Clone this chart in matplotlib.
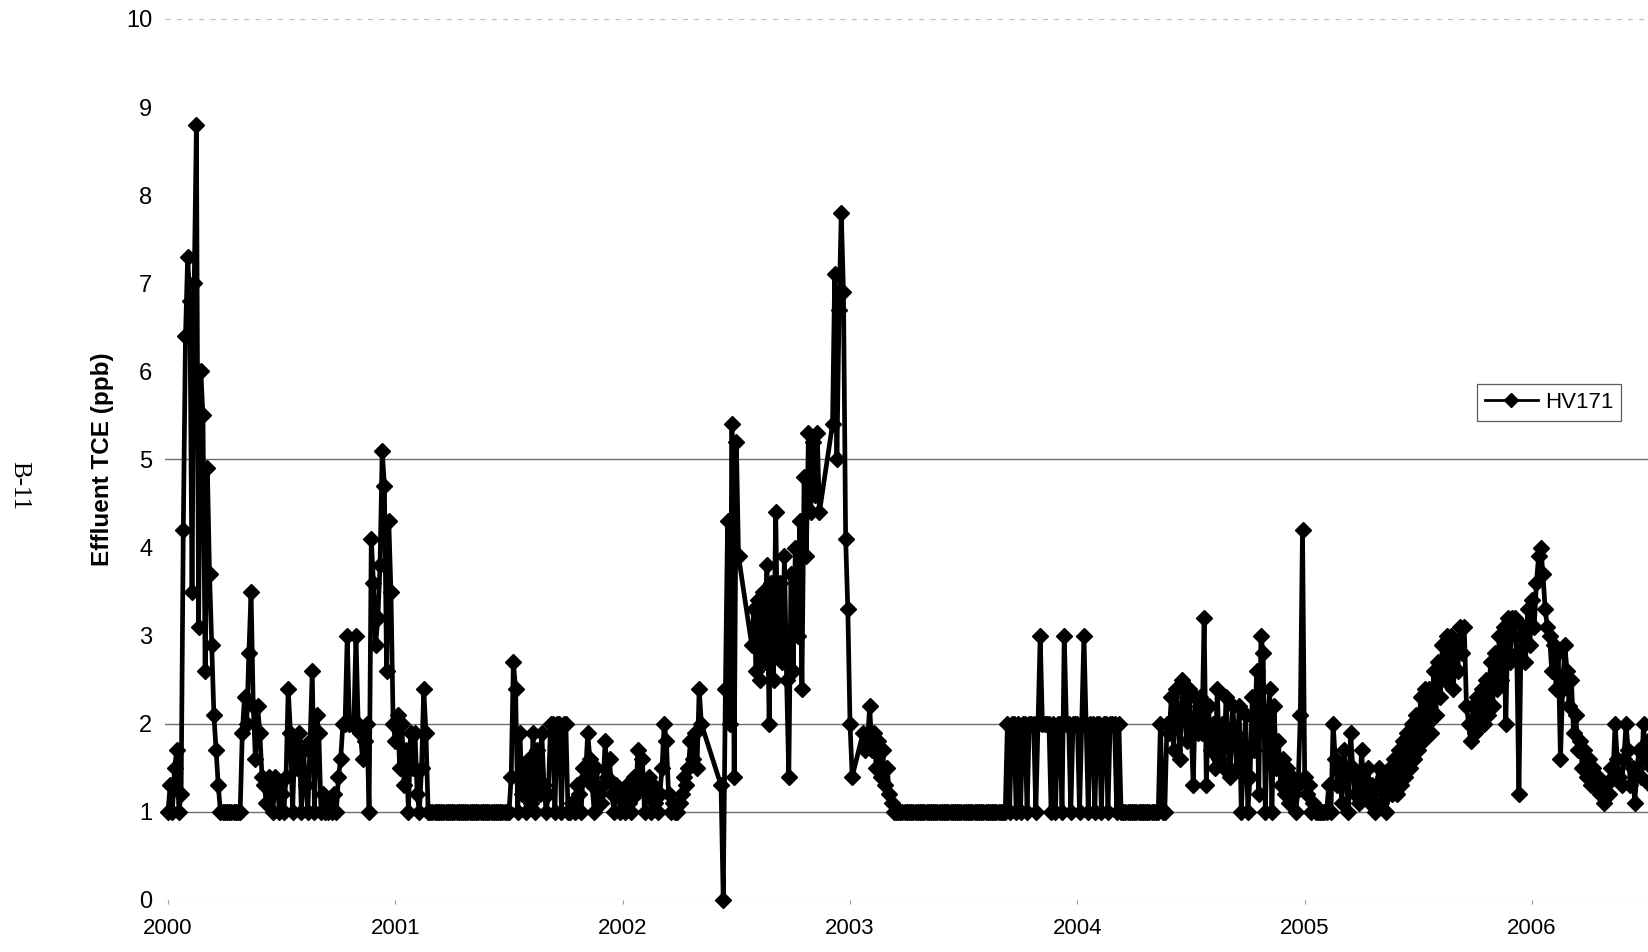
"""Effluent TCE at HV171, 2000-2006 (scanned report figure B-11)."""

import matplotlib

matplotlib.use("Agg")
import matplotlib.pyplot as plt
import numpy as np
import pandas as pd

nan = float("nan")

# twice-weekly readings (ppb); nan = no sample
tce_2000 = [
    1.0, 1.3, 1.0, 1.5, 1.7, 1.0, 1.2, 4.2,
    6.4, 7.3, 6.8, 3.5, 7.0, 8.8, 3.1, 6.0,
    5.5, 2.6, 4.9, 3.7, 2.9, 2.1, 1.7, 1.3,
    1.0, 1.0, 1.0, 1.0, 1.0, 1.0, 1.0, 1.0,
    1.0, 1.0, 1.9, 2.3, 2.0, 2.8, 3.5, 2.2,
    1.6, 2.2, 1.9, 1.4, 1.3, 1.1, 1.4, 1.2,
    1.0, 1.4, 1.3, 1.0, 1.2, 1.0, 1.4, 2.4,
    1.9, 1.0, 1.8, 1.5, 1.9, 1.0, 1.7, 1.3,
    1.0, 1.8, 2.6, 1.0, 2.1, 1.9, 1.0, 1.2,
    1.0, 1.0, 1.1, 1.0, 1.2, 1.0, 1.4, 1.6,
    2.0, 2.0, 3.0, 2.0, 2.0, 2.0, 3.0, 2.0,
    1.9, 1.6, 1.8, 2.0, 1.0, 4.1, 3.6, 2.9,
    3.2, 3.8, 5.1, 4.7, 2.6, 4.3, 3.5, 2.0,
]
tce_2001 = [
    1.8, 2.1, 1.5, 2.0, 1.3, 1.7, 1.0, 1.9,
    1.5, 1.9, 1.2, 1.0, 1.5, 2.4, 1.9, 1.0,
    1.0, 1.0, 1.0, 1.0, 1.0, 1.0, 1.0, 1.0,
    1.0, 1.0, 1.0, 1.0, 1.0, 1.0, 1.0, 1.0,
    1.0, 1.0, 1.0, 1.0, 1.0, 1.0, 1.0, 1.0,
    1.0, 1.0, 1.0, 1.0, 1.0, 1.0, 1.0, 1.0,
    1.0, 1.0, 1.0, 1.0, 1.0, 1.4, 2.7, 2.4,
    1.0, 1.9, 1.2, 1.5, 1.0, 1.6, 1.1, 1.9,
    1.0, 1.7, 1.2, 1.9, 1.3, 1.0, 1.2, 2.0,
    2.0, 1.0, 2.0, 2.0, 1.0, 2.0, 2.0, 1.0,
    1.0, 1.1, 1.0, 1.3, 1.2, 1.0, 1.5, 1.4,
    1.9, 1.6, 1.3, 1.0, 1.5, 1.2, 1.1, 1.3,
    1.8, 1.4, 1.6, 1.2, 1.0, 1.3, 1.2, 1.0,
]
tce_2002 = [
    1.2, 1.0, 1.3, 1.1, 1.0, 1.4, 1.2, 1.7,
    1.3, 1.6, 1.0, 1.2, 1.4, 1.0, 1.3, 1.1,
    1.0, 1.2, 1.5, 2.0, 1.8, 1.2, 1.0, 1.1,
    1.0, 1.0, 1.1, 1.2, 1.4, 1.3, 1.5, 1.8,
    1.6, 1.9, 1.5, 2.4, 2.0, nan, nan, nan,
    nan, nan, nan, nan, nan, 1.3, 0.0, 2.4,
    4.3, 2.0, 5.4, 1.4, 5.2, 3.9, nan, nan,
    nan, nan, nan, 2.9, 3.3, 2.6, 3.4, 2.5,
    3.5, 2.7, 3.8, 2.0, 3.6, 2.5, 4.4, 2.8,
    3.6, 2.7, 3.9, 2.5, 1.4, 3.7, 2.6, 4.0,
    3.0, 4.3, 2.4, 4.8, 3.9, 5.3, 4.4, 5.2,
    4.6, 5.3, 4.4, nan, nan, nan, nan, nan,
    5.4, 7.1, 5.0, 6.7, 7.8, 6.9, 4.1, 3.3,
]
tce_2003 = [
    2.0, 1.4, nan, nan, nan, nan, 1.9, 1.7,
    1.8, 2.2, 1.7, 1.9, 1.5, 1.8, 1.4, 1.7,
    1.3, 1.5, 1.2, 1.1, 1.0, 1.0, 1.0, 1.0,
    1.0, 1.0, 1.0, 1.0, 1.0, 1.0, 1.0, 1.0,
    1.0, 1.0, 1.0, 1.0, 1.0, 1.0, 1.0, 1.0,
    1.0, 1.0, 1.0, 1.0, 1.0, 1.0, 1.0, 1.0,
    1.0, 1.0, 1.0, 1.0, 1.0, 1.0, 1.0, 1.0,
    1.0, 1.0, 1.0, 1.0, 1.0, 1.0, 1.0, 1.0,
    1.0, 1.0, 1.0, 1.0, 1.0, 1.0, 1.0, 1.0,
    2.0, 1.0, 2.0, 2.0, 1.0, 2.0, 1.0, 2.0,
    2.0, 1.0, 2.0, 2.0, 2.0, 1.0, 2.0, 3.0,
    2.0, 2.0, 2.0, 2.0, 1.0, 2.0, 1.0, 2.0,
    2.0, 1.0, 3.0, 2.0, 2.0, 1.0, 2.0, 2.0,
]
tce_2004 = [
    2.0, 1.0, 2.0, 3.0, 2.0, 1.0, 2.0, 2.0,
    1.0, 2.0, 2.0, 1.0, 2.0, 2.0, 1.0, 2.0,
    2.0, 2.0, 1.0, 2.0, 1.0, 1.0, 1.0, 1.0,
    1.0, 1.0, 1.0, 1.0, 1.0, 1.0, 1.0, 1.0,
    1.0, 1.0, 1.0, 1.0, 1.0, 1.0, 2.0, 1.0,
    1.0, 2.0, 1.9, 2.3, 1.7, 2.4, 2.1, 1.6,
    2.5, 2.2, 1.8, 2.4, 2.0, 1.3, 2.3, 1.9,
    2.3, 1.9, 3.2, 1.3, 2.2, 1.7, 2.0, 1.5,
    2.4, 1.6, 2.0, 1.5, 2.3, 1.8, 1.4, 2.2,
    1.9, 1.5, 2.2, 1.0, 1.6, 2.1, 1.0, 1.4,
    2.3, 1.7, 2.6, 1.2, 3.0, 2.8, 1.0, 2.0,
    2.4, 1.0, 2.2, 1.5, 1.8, 1.3, 1.6, 1.2,
    1.5, 1.1, 1.4, 1.2, 1.0, 1.3, 2.1, 4.2,
]
tce_2005 = [
    1.4, 1.2, 1.3, 1.0, 1.1, 1.0, 1.0, 1.0,
    1.0, 1.0, 1.0, 1.3, 1.0, 2.0, 1.6, 1.3,
    1.5, 1.1, 1.7, 1.4, 1.0, 1.9, 1.5, 1.2,
    1.4, 1.1, 1.7, 1.3, 1.2, 1.5, 1.1, 1.3,
    1.0, 1.3, 1.5, 1.1, 1.4, 1.0, 1.2, 1.5,
    1.2, 1.6, 1.2, 1.7, 1.3, 1.8, 1.4, 1.9,
    1.5, 2.0, 1.6, 2.1, 1.7, 2.3, 1.8, 2.4,
    2.0, 2.4, 1.9, 2.6, 2.1, 2.7, 2.3, 2.9,
    2.5, 3.0, 2.6, 3.0, 2.4, 2.9, 2.6, 3.1,
    2.8, 3.1, 2.2, 2.0, 1.8, 2.2, 1.9, 2.3,
    2.0, 2.4, 2.0, 2.5, 2.1, 2.7, 2.2, 2.8,
    2.4, 3.0, 2.5, 3.1, 2.0, 3.2, 2.7, 3.2,
    3.2, 2.8, 1.2, 3.0, 3.1, 2.7, 3.3, 2.9,
]
tce_2006 = [
    3.4, 3.1, 3.6, 3.9, 4.0, 3.7, 3.3, 3.1,
    3.0, 2.6, 2.9, 2.4, 2.8, 1.6, 2.4, 2.9,
    2.6, 2.2, 2.5, 1.9, 2.1, 1.7, 1.8, 1.5,
    1.7, 1.4, 1.6, 1.3, 1.5, 1.3, 1.4, 1.2,
    1.2, 1.1, 1.3, 1.2, 1.5, 1.4, 2.0, 1.6,
    1.4, 1.3, 1.6, 2.0, 1.7, 1.3, 1.5, 1.1,
    1.5, 1.7, 1.4, 2.0, 1.6, 1.8, 1.3, 1.5,
]

years = [2000, 2001, 2002, 2003, 2004, 2005, 2006]
yearly = [tce_2000, tce_2001, tce_2002, tce_2003, tce_2004, tce_2005, tce_2006]
y_ticks = list(range(0, 11))
samples_per_year = 104

frames = []
for yr, vals in zip(years, yearly):
    t = yr + np.arange(len(vals)) / samples_per_year
    frames.append(pd.DataFrame({"t": t, "tce": vals}))
df = pd.concat(frames, ignore_index=True).dropna()

W, H = 1648, 952
fig = plt.figure(figsize=(W / 100, H / 100), dpi=100)
ax = fig.add_axes([165 / W, 52 / H, 1 - 165 / W, 881 / H])

# gridlines: the scan keeps 1, 2 and 5 clearly, 0 and 10 only faintly
for y in (1, 2, 5):
    ax.axhline(y, color="#6e6e6e", lw=1.0, zorder=0)
for y in (0, 10):
    ax.axhline(y, color="#bdbdbd", lw=0.9, ls=(0, (4, 5)), zorder=0)

ax.plot(df["t"], df["tce"], color="black", lw=3.4, marker="D", ms=8,
        mfc="black", mec="black", clip_on=False, label="HV171", zorder=3)

ax.set_xlim(2000 - 3 / 227.8, 2000 + 1483 / 227.8)
ax.set_ylim(0, 10)
for s in ax.spines.values():
    s.set_visible(False)

ax.set_yticks(y_ticks)
ax.set_yticklabels([str(v) for v in y_ticks])
ax.set_xticks(years)
ax.set_xticklabels([str(y) for y in years])
ax.tick_params(axis="y", length=0, pad=9, labelsize=17)
ax.tick_params(axis="x", length=3, width=0.8, color="#999999", pad=10, labelsize=16)
for lab in ax.get_xticklabels() + ax.get_yticklabels():
    lab.set_fontfamily("Liberation Sans")

leg = ax.legend(loc="upper left", bbox_to_anchor=(1477 / W, 1 - 384 / H),
                bbox_transform=fig.transFigure, fancybox=False, frameon=True,
                edgecolor="#333333", borderpad=0.35, handlelength=2.4,
                handletextpad=0.3, borderaxespad=0,
                prop={"family": "Liberation Sans", "size": 16})
leg.get_frame().set_linewidth(0.9)
for h in leg.get_lines():
    h.set_linewidth(2.0)
    h.set_markersize(7)

fig.text(102 / W, 1 - 459 / H, "Effluent TCE (ppb)", rotation=90, ha="center",
         va="center", fontsize=17.5, fontweight="bold", family="Liberation Sans")
fig.text(19 / W, 1 - 486 / H, "B-11", rotation=270, ha="center", va="center",
         fontsize=18, family="Liberation Serif")

fig.savefig("out.png", dpi=100)
plt.close(fig)
